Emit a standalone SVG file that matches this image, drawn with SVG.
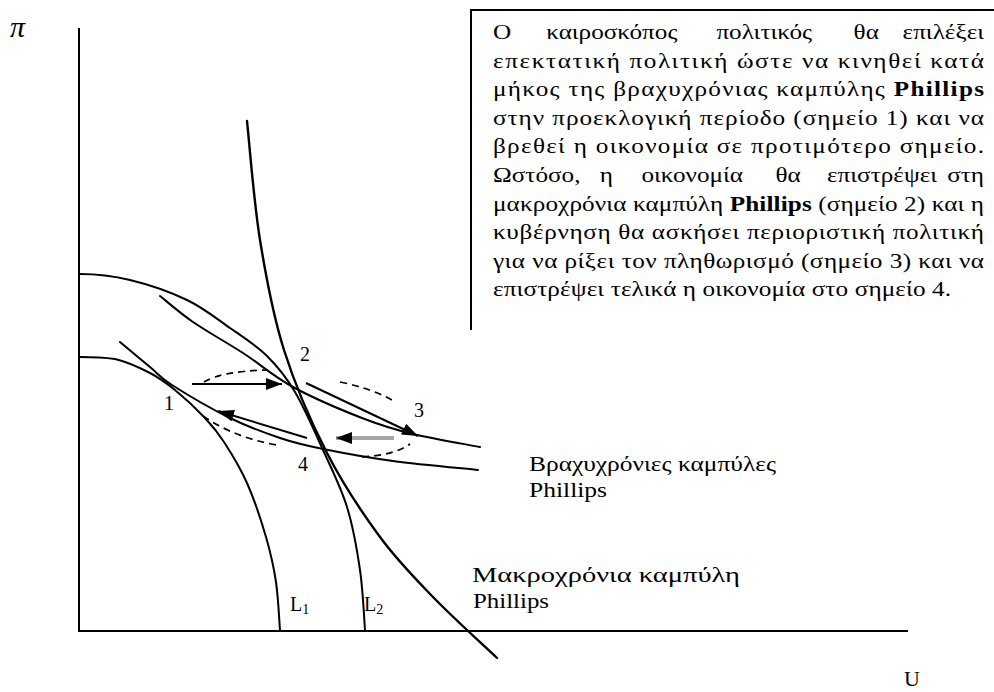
<svg xmlns="http://www.w3.org/2000/svg" width="994" height="692" viewBox="0 0 994 692">
<style>
.ax{stroke:#000;stroke-width:2;fill:none}
.cv{stroke:#000;stroke-width:2;fill:none;stroke-linecap:round}
.lr{stroke:#000;stroke-width:2.4;fill:none;stroke-linecap:round}
.ar{stroke:#000;stroke-width:2;fill:none}
.gr{stroke:#a6a6a6;stroke-width:4;fill:none}
.ds{stroke:#000;stroke-width:1.7;fill:none;stroke-dasharray:7 5}
.t{font-family:"Liberation Serif","DejaVu Serif",serif;fill:#000}
.p{font-family:"Liberation Serif","DejaVu Serif",serif;font-size:21px;fill:#000}
.b{font-weight:bold}
.m{text-anchor:middle}
.e{text-anchor:end}
</style>
<defs>
<marker id="ah" viewBox="0 0 16 12" refX="16" refY="6" markerWidth="16" markerHeight="12" markerUnits="userSpaceOnUse" orient="auto">
<path d="M0,0 L16,6 L0,12 z" fill="#000"/>
</marker>
</defs>
<rect width="994" height="692" fill="#fff"/>

<g id="axes">
<line class="ax" x1="79" y1="28" x2="79" y2="632"/>
<line class="ax" x1="78" y1="631" x2="908" y2="631"/>
<text class="t" x="10" y="37" font-size="30" font-style="italic">π</text>
<text class="t" x="904" y="686" font-size="22">U</text>
</g>

<g id="curves">
<path id="L2" class="cv" d="M80,274 C100,274 112.2,275.7 130,280 C147.8,284.3 170.3,292 187,300 C203.7,308 216.7,318.7 230,328 C243.3,337.3 256.2,345.3 267,356 C277.8,366.7 285.7,376.3 295,392 C304.3,407.7 314.3,430.8 323,450 C331.7,469.2 340.8,487 347,507 C353.2,527 357,549.5 360,570 C363,590.5 364.2,620 365,630"/>
<path id="L1" class="cv" d="M80,357 C95,357 104,357.5 115,359 C126.7,361.7 140,367.8 150,373 C160,378.2 165.8,382.5 175,390 C184.2,397.5 196.8,409.3 205,418 C213.2,426.7 217,431.2 224,442 C231,452.8 240,467.2 247,483 C254,498.8 261.2,520.5 266,537 C270.8,553.5 273.7,566.5 276,582 C278.3,597.5 279.3,622 280,630"/>
<path id="LRPC" class="lr" d="M247,121 C249.2,140.8 253.8,201.8 260,240 C266.2,278.2 272.8,314.5 284,350 C295.2,385.5 311,421.8 327,453 C343,484.2 362.3,513 380,537 C397.7,561 413.5,576.8 433,597 C452.5,617.2 486.3,647.8 497,658"/>
<path id="SR1" class="cv" d="M160,296 C165.5,300.3 179.2,312.5 193,322 C206.8,331.5 226.3,342.2 243,353 C259.7,363.8 273.2,376.2 293,387 C312.8,397.8 342,410.2 362,418 C382,425.8 393.3,429.2 413,434 C432.7,438.8 468.8,444.8 480,447"/>
<path id="SR2" class="cv" d="M120,342 C125,346.2 141.3,359.8 150,367 C158.7,374.2 158.7,376.5 172,385 C185.3,393.5 212,409.2 230,418 C248,426.8 264.5,432.8 280,438 C295.5,443.2 304.2,445.2 323,449 C341.8,452.8 367.2,457.5 393,461 C418.8,464.5 463.8,468.5 478,470"/>
</g>

<g id="dashed">
<path class="ds" d="M204,382 Q222,371 268,370"/>
<path class="ds" d="M340,382 Q370,388 392,400"/>
<path class="ds" d="M362,457 Q395,455 410,444"/>
<path class="ds" d="M203,416 Q235,438 277,445"/>
</g>

<g id="arrows">
<line class="ar" x1="192" y1="384" x2="282" y2="384" marker-end="url(#ah)"/>
<line class="ar" x1="306" y1="383" x2="418" y2="436" marker-end="url(#ah)"/>
<line class="gr" x1="394" y1="438" x2="336" y2="438" marker-end="url(#ah)"/>
<line class="ar" x1="307" y1="438" x2="218" y2="411" marker-end="url(#ah)"/>
</g>

<g id="points">
<text class="t" x="300" y="361" font-size="20">2</text>
<text class="t" x="164" y="410" font-size="20">1</text>
<text class="t" x="414" y="417" font-size="20">3</text>
<text class="t" x="298" y="471" font-size="20">4</text>
<text class="t" x="290" y="611" font-size="20">L<tspan font-size="14" dy="3">1</tspan></text>
<text class="t" x="364" y="611" font-size="20">L<tspan font-size="14" dy="3">2</tspan></text>
</g>

<g id="label-short">
<text class="t" x="529" y="471" font-size="20" textLength="247" lengthAdjust="spacingAndGlyphs">Βραχυχρόνιες καμπύλες</text>
<text class="t" x="529" y="497" font-size="20" textLength="78" lengthAdjust="spacingAndGlyphs">Phillips</text>
</g>

<g id="label-long">
<text class="t" x="472" y="582" font-size="20" textLength="268" lengthAdjust="spacingAndGlyphs">Μακροχρόνια καμπύλη</text>
<text class="t" x="473" y="608" font-size="20" textLength="76" lengthAdjust="spacingAndGlyphs">Phillips</text>
</g>

<g id="textbox">
<path class="ax" d="M471,330 L471,10 L994,10"/>
<g transform="translate(493,0) scale(1.2,1)">
<text class="p" x="0" y="39">Ο</text>
<text class="p m" x="99" y="39">καιροσκόπος</text>
<text class="p m" x="226" y="39">πολιτικός</text>
<text class="p m" x="311" y="39">θα</text>
<text class="p e" x="409.2" y="39">επιλέξει</text>
<text class="p" x="0" y="67.6" textLength="409.2" lengthAdjust="spacing">επεκτατική πολιτική ώστε να κινηθεί κατά</text>
<text class="p" x="0" y="96.2" textLength="409.2" lengthAdjust="spacing">μήκος της βραχυχρόνιας καμπύλης <tspan class="b">Phillips</tspan></text>
<text class="p" x="0" y="124.8" textLength="409.2" lengthAdjust="spacing">στην προεκλογική περίοδο (σημείο 1) και να</text>
<text class="p" x="0" y="153.4" textLength="409.2" lengthAdjust="spacing">βρεθεί η οικονομία σε προτιμότερο σημείο.</text>
<text class="p" x="0" y="182">Ωστόσο,</text>
<text class="p m" x="94.5" y="182">η</text>
<text class="p m" x="166" y="182">οικονομία</text>
<text class="p m" x="246" y="182">θα</text>
<text class="p m" x="324.2" y="182">επιστρέψει</text>
<text class="p e" x="409.2" y="182">στη</text>
<text class="p" x="0" y="210.6" textLength="409.2" lengthAdjust="spacing">μακροχρόνια καμπύλη <tspan class="b">Phillips</tspan> (σημείο 2) και η</text>
<text class="p" x="0" y="239.2" textLength="409.2" lengthAdjust="spacing">κυβέρνηση θα ασκήσει περιοριστική πολιτική</text>
<text class="p" x="0" y="267.8" textLength="409.2" lengthAdjust="spacing">για να ρίξει τον πληθωρισμό (σημείο 3) και να</text>
<text class="p" x="0" y="296.4" textLength="381.7" lengthAdjust="spacing">επιστρέψει τελικά η οικονομία στο σημείο 4.</text>
</g>
</g>
</svg>
